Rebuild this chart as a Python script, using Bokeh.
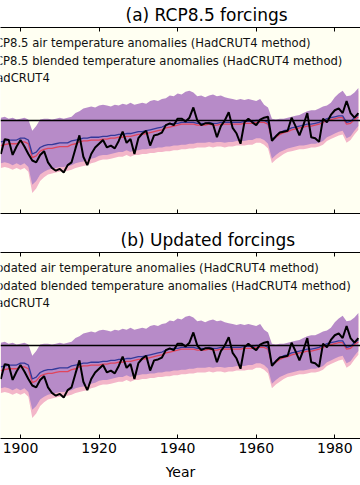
from bokeh.plotting import figure
from bokeh.models import FixedTicker, LinearAxis, Range1d, Span, Title
from bokeh.layouts import column
from bokeh.embed import file_html
from bokeh.resources import INLINE
from bokeh.core.properties import value

# ---------------- data ----------------
years = list(range(1895, 1987))

hadcrut4 = [
    -0.36, -0.20, -0.21, -0.37, -0.28, -0.21, -0.28, -0.36, -0.43, -0.45,
    -0.37, -0.33, -0.45, -0.51, -0.54, -0.52, -0.56, -0.48, -0.45, -0.30,
    -0.16, -0.39, -0.48, -0.36, -0.29, -0.25, -0.21, -0.29, -0.27, -0.30,
    -0.22, -0.12, -0.24, -0.20, -0.36, -0.19, -0.14, -0.11, -0.27, -0.16,
    -0.15, -0.13, -0.05, -0.03, -0.05, 0.02, 0.02, -0.01, 0.03, 0.14,
    0.00, -0.05, -0.03, -0.03, -0.04, -0.18, -0.06, 0.00, 0.09, -0.08,
    -0.14, -0.25, -0.02, 0.02, -0.02, -0.05, 0.01, 0.03, 0.04, -0.22,
    -0.17, -0.13, -0.12, -0.11, 0.03, -0.06, -0.16, -0.05, 0.08, -0.18,
    -0.19, -0.23, 0.02, -0.02, 0.06, 0.11, 0.13, 0.08, 0.21, 0.08,
    0.03, 0.08,
]

air_mean = [
    -0.23, -0.22, -0.21, -0.21, -0.21, -0.19, -0.19, -0.21, -0.36, -0.34,
    -0.29, -0.27, -0.26, -0.26, -0.25, -0.24, -0.24, -0.24, -0.22, -0.21,
    -0.20, -0.19, -0.19, -0.18, -0.18, -0.18, -0.17, -0.17, -0.16, -0.16,
    -0.15, -0.15, -0.14, -0.14, -0.13, -0.12, -0.12, -0.11, -0.10, -0.09,
    -0.08, -0.07, -0.05, -0.04, -0.03, -0.03, -0.02, -0.02, -0.02, -0.02,
    -0.03, -0.03, -0.03, -0.02, -0.03, -0.03, -0.02, -0.02, -0.02, -0.02,
    -0.02, -0.02, -0.01, -0.01, -0.01, 0.00, 0.00, 0.00, -0.02, -0.20,
    -0.17, -0.13, -0.11, -0.10, -0.08, -0.07, -0.06, -0.05, -0.04, -0.04,
    -0.03, -0.02, 0.00, 0.02, 0.03, 0.04, 0.05, 0.05, -0.02, -0.01,
    0.03, 0.06,
]

blended_mean = [
    -0.27, -0.26, -0.25, -0.25, -0.25, -0.23, -0.23, -0.25, -0.40, -0.38,
    -0.33, -0.31, -0.30, -0.30, -0.29, -0.28, -0.28, -0.28, -0.26, -0.25,
    -0.23, -0.22, -0.22, -0.21, -0.21, -0.21, -0.20, -0.20, -0.19, -0.19,
    -0.18, -0.18, -0.17, -0.17, -0.16, -0.15, -0.15, -0.14, -0.13, -0.12,
    -0.11, -0.10, -0.08, -0.07, -0.06, -0.05, -0.04, -0.04, -0.04, -0.04,
    -0.05, -0.05, -0.05, -0.04, -0.05, -0.05, -0.04, -0.04, -0.04, -0.04,
    -0.04, -0.04, -0.03, -0.03, -0.03, -0.02, -0.02, -0.02, -0.04, -0.21,
    -0.18, -0.15, -0.13, -0.12, -0.10, -0.09, -0.08, -0.07, -0.06, -0.06,
    -0.05, -0.04, -0.02, 0.00, 0.01, 0.02, 0.03, 0.03, -0.04, -0.03,
    0.01, 0.04,
]

air_high = [
    0.03, 0.04, 0.02, 0.03, 0.01, 0.02, 0.03, 0.01, -0.11, -0.06,
    0.01, 0.02, 0.02, 0.01, 0.02, 0.03, 0.02, 0.03, 0.04, 0.08,
    0.10, 0.13, 0.14, 0.15, 0.14, 0.16, 0.17, 0.16, 0.15, 0.17,
    0.16, 0.18, 0.17, 0.19, 0.17, 0.18, 0.19, 0.18, 0.21, 0.22,
    0.21, 0.23, 0.24, 0.27, 0.26, 0.29, 0.28, 0.31, 0.32, 0.30,
    0.26, 0.27, 0.25, 0.27, 0.28, 0.26, 0.27, 0.25, 0.24, 0.23,
    0.22, 0.23, 0.22, 0.23, 0.22, 0.21, 0.23, 0.17, 0.14, 0.02,
    0.01, 0.02, 0.02, 0.03, 0.04, 0.05, 0.06, 0.08, 0.10, 0.11,
    0.11, 0.13, 0.15, 0.16, 0.19, 0.25, 0.29, 0.32, 0.26, 0.27,
    0.30, 0.35,
]

air_low = [
    -0.46, -0.45, -0.46, -0.48, -0.46, -0.48, -0.46, -0.50, -0.69, -0.65,
    -0.58, -0.55, -0.53, -0.52, -0.51, -0.50, -0.50, -0.49, -0.48, -0.46,
    -0.45, -0.44, -0.43, -0.41, -0.40, -0.38, -0.37, -0.37, -0.36, -0.35,
    -0.34, -0.34, -0.32, -0.34, -0.32, -0.32, -0.31, -0.31, -0.30, -0.30,
    -0.29, -0.29, -0.28, -0.28, -0.27, -0.27, -0.26, -0.26, -0.25, -0.25,
    -0.24, -0.24, -0.24, -0.23, -0.24, -0.23, -0.23, -0.24, -0.23, -0.23,
    -0.22, -0.22, -0.22, -0.21, -0.21, -0.19, -0.19, -0.21, -0.25, -0.41,
    -0.37, -0.34, -0.32, -0.30, -0.29, -0.28, -0.27, -0.27, -0.26, -0.25,
    -0.25, -0.24, -0.22, -0.18, -0.16, -0.14, -0.12, -0.11, -0.19, -0.17,
    -0.11, -0.06,
]

blended_high = [
    0.00, 0.01, -0.01, 0.00, -0.02, -0.01, 0.00, -0.02, -0.14, -0.09,
    -0.02, -0.01, -0.01, -0.02, -0.01, 0.00, -0.01, 0.00, 0.01, 0.05,
    0.07, 0.10, 0.11, 0.12, 0.11, 0.13, 0.14, 0.13, 0.12, 0.14,
    0.13, 0.15, 0.14, 0.16, 0.14, 0.15, 0.16, 0.15, 0.18, 0.19,
    0.18, 0.20, 0.21, 0.24, 0.23, 0.26, 0.25, 0.28, 0.29, 0.27,
    0.23, 0.24, 0.22, 0.24, 0.25, 0.23, 0.24, 0.22, 0.21, 0.20,
    0.19, 0.20, 0.19, 0.20, 0.19, 0.18, 0.20, 0.14, 0.11, -0.01,
    -0.02, -0.01, -0.01, 0.00, 0.01, 0.02, 0.03, 0.05, 0.07, 0.08,
    0.08, 0.10, 0.12, 0.13, 0.16, 0.22, 0.26, 0.29, 0.23, 0.24,
    0.27, 0.32,
]

blended_low = [
    -0.51, -0.50, -0.51, -0.53, -0.51, -0.53, -0.51, -0.55, -0.78, -0.73,
    -0.65, -0.61, -0.58, -0.57, -0.56, -0.55, -0.55, -0.54, -0.53, -0.51,
    -0.50, -0.49, -0.48, -0.46, -0.45, -0.43, -0.42, -0.42, -0.41, -0.40,
    -0.39, -0.39, -0.37, -0.39, -0.37, -0.37, -0.36, -0.36, -0.35, -0.35,
    -0.34, -0.34, -0.33, -0.33, -0.32, -0.32, -0.31, -0.31, -0.30, -0.30,
    -0.29, -0.29, -0.29, -0.28, -0.29, -0.28, -0.28, -0.29, -0.28, -0.28,
    -0.27, -0.27, -0.27, -0.26, -0.26, -0.24, -0.24, -0.26, -0.30, -0.46,
    -0.42, -0.39, -0.36, -0.34, -0.33, -0.32, -0.31, -0.31, -0.30, -0.29,
    -0.29, -0.28, -0.26, -0.22, -0.20, -0.18, -0.16, -0.15, -0.24, -0.21,
    -0.15, -0.10,
]

tick_years = [1900, 1920, 1940, 1960, 1980]

panel_titles = ["(a) RCP8.5 forcings", "(b) Updated forcings"]
legend_a = [
    "RCP8.5 air temperature anomalies (HadCRUT4 method)",
    "RCP8.5 blended temperature anomalies (HadCRUT4 method)",
    "HadCRUT4",
]
legend_b = [
    "Updated air temperature anomalies (HadCRUT4 method)",
    "Updated blended temperature anomalies (HadCRUT4 method)",
    "HadCRUT4",
]
legend_rows = [0.83, 0.645, 0.455]

# ---------------- style ----------------
FONT = "DejaVu Sans"
PURPLE = "#b78bc8"
PINK = "#f3b6c9"
BLUE = "#34399a"
RED = "#e0455c"
BG = "#fffff2"
X_START, X_END = 1894.91, 1986.54
LEGEND_X = 1891.6


def make_axis(show_labels):
    ax = LinearAxis(
        ticker=FixedTicker(ticks=tick_years),
        major_tick_in=4, major_tick_out=0,
        minor_tick_in=0, minor_tick_out=0,
        axis_line_color="black", axis_line_width=1.2,
        major_tick_line_color="black", major_tick_line_width=1,
        major_label_text_font=FONT,
    )
    if show_labels:
        ax.major_label_text_font_size = "14px"
        ax.major_label_text_color = "black"
        ax.major_label_standoff = 4
        ax.axis_label = "Year"
        ax.axis_label_text_font = FONT
        ax.axis_label_text_font_size = "14px"
        ax.axis_label_text_font_style = "normal"
        ax.axis_label_text_color = "black"
        ax.axis_label_standoff = 8
    else:
        ax.major_label_text_font_size = "1px"
        ax.major_label_text_color = None
        ax.major_label_standoff = 0
    return ax


def make_panel(title, labels, show_labels, height, top, bottom, title_offset):
    p = figure(
        width=360, height=height,
        x_range=Range1d(X_START, X_END), y_range=Range1d(-1.0, 1.0),
        output_backend="svg", toolbar_location=None,
        x_axis_location=None, y_axis_location=None,
        min_border_left=0, min_border_right=0,
        min_border_top=top, min_border_bottom=bottom,
        background_fill_color=BG, border_fill_color="white",
        outline_line_color=None,
    )
    p.grid.visible = False
    p.add_layout(make_axis(show_labels), "below")
    p.add_layout(make_axis(False), "above")
    p.add_layout(Title(text=title, align="left", offset=title_offset,
                       text_font=FONT, text_font_size="17px",
                       text_font_style="normal", text_color="black",
                       standoff=5), "above")

    p.varea(x=years, y1=blended_low, y2=blended_high, fill_color=PINK)
    p.varea(x=years, y1=air_low, y2=air_high, fill_color=PURPLE)
    p.line(years, blended_mean, line_color=RED, line_width=1.3)
    p.line(years, air_mean, line_color=BLUE, line_width=1.3)
    p.line(years, hadcrut4, line_color="black", line_width=2)
    p.add_layout(Span(location=0, dimension="width", line_color="black",
                      line_width=1.3))

    p.text(x=[LEGEND_X] * len(labels), y=legend_rows, text=labels,
           text_font=value(FONT), text_font_size="11.6px",
           text_baseline="middle", text_align="left", text_color="#111111")
    return p


pa = make_panel(panel_titles[0], legend_a, False, 223, 27, 10, 125)
pb = make_panel(panel_titles[1], legend_b, True, 261, 29, 46, 120)

layout = column(pa, pb, spacing=0)
open("out.html", "w").write(file_html(layout, INLINE))
